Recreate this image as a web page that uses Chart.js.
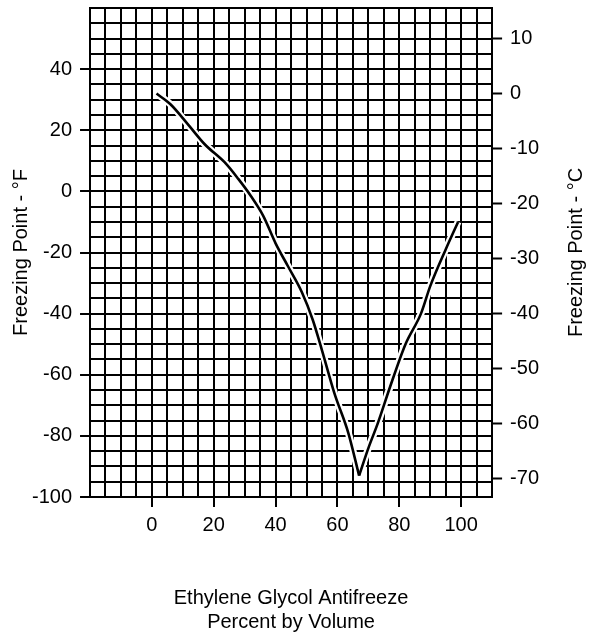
<!DOCTYPE html>
<html lang="en">
<head>
  <meta charset="UTF-8">
  <title>Ethylene Glycol Antifreeze - Freezing Point</title>
  <script src="https://cdn.jsdelivr.net/npm/chart.js@4.4.1/dist/chart.umd.min.js"></script>
  <style>
    html,body{margin:0;padding:0;background:#fff}
    #wrap{width:589px;height:639px}
  </style>
</head>
<body>
<div id="wrap"><canvas id="chart" width="589" height="639"></canvas></div>
<script>
/* ---- data ---- */
const percentVol = [1.5, 6, 12, 17, 24, 28, 32, 36, 40, 44, 48.5, 52, 55, 59, 63.5, 67, 70, 73, 77, 82, 87, 90, 95, 99];
const freezeF    = [32, 28.5, 21.5, 15.5, 9, 4, -1.5, -8, -17, -24.5, -33, -42, -52, -66, -79, -93, -84, -76, -64, -50, -40, -31, -19, -10];
const minIndex = 15; // bottom of the V (eutectic point)

// axis ranges / labelled ticks
const xRange = [-20, 110];
const xLabels = [0, 20, 40, 60, 80, 100];
const fRange = [-100, 60];
const fLabels = [-100, -80, -60, -40, -20, 0, 20, 40];
const cLabels = [-70, -60, -50, -40, -30, -20, -10, 0, 10];
const fTitle = 'Freezing Point - °F';
const cTitle = 'Freezing Point - °C';

const toC = f => (f - 32) * 5 / 9;
const pts = (a, b) => percentVol.slice(a, b).map((x, i) => ({x: x, y: freezeF[a + i]}));
const fallBranch = pts(0, minIndex + 1);
const riseBranch = pts(minIndex);

const FONT = {family: '"Liberation Sans", Arial, sans-serif', size: 20, lineHeight: 1.2};
const hasLabel = (list, v) => list.some(l => Math.abs(l - v) < 1e-6);

Chart.defaults.color = '#000';

function curve(data, white){
  return {
    data: data, borderColor: white ? '#fff' : '#000', borderWidth: white ? 7 : 2.6,
    pointRadius: 0, cubicInterpolationMode: 'monotone', order: white ? 2 : 1
  };
}

// right-hand title reads bottom-to-top like the left one
const rightTitle = {
  id: 'rightTitle',
  afterDraw(chart){
    const s = chart.scales.y2, a = chart.chartArea, ctx = chart.ctx;
    ctx.save();
    ctx.translate(s.right - 13, (a.top + a.bottom) / 2);
    ctx.rotate(-Math.PI / 2);
    ctx.font = '20px "Liberation Sans", Arial, sans-serif';
    ctx.fillStyle = '#000';
    ctx.textAlign = 'center';
    ctx.textBaseline = 'middle';
    ctx.fillText(cTitle, 0, 0);
    ctx.restore();
  }
};

new Chart(document.getElementById('chart'), {
  type: 'line',
  data: {
    datasets: [curve(fallBranch, false), curve(riseBranch, false), curve(fallBranch, true), curve(riseBranch, true)]
  },
  options: {
    responsive: false,
    animation: false,
    layout: {padding: {top: 8, left: 0, right: 0, bottom: 0}},
    plugins: {legend: {display: false}, tooltip: {enabled: false}},
    scales: {
      x: {
        type: 'linear', min: xRange[0], max: xRange[1],
        ticks: {
          stepSize: 5, autoSkip: false, maxRotation: 0, padding: 6, font: FONT, color: '#000',
          callback: v => hasLabel(xLabels, v) ? String(v) : []
        },
        grid: {
          color: '#000', lineWidth: 2, tickLength: 10, tickWidth: 2,
          tickColor: c => hasLabel(xLabels, c.tick.value) ? '#000' : 'rgba(0,0,0,0)'
        },
        border: {color: '#000', width: 2},
        title: {
          display: true, text: ['Ethylene Glycol Antifreeze', 'Percent by Volume'],
          font: FONT, color: '#000', padding: {top: 43, bottom: 5}
        }
      },
      y: {
        type: 'linear', position: 'left', min: fRange[0], max: fRange[1],
        ticks: {
          stepSize: 5, autoSkip: false, padding: 8, font: FONT, color: '#000',
          callback: v => hasLabel(fLabels, v) ? String(v) : []
        },
        grid: {
          color: '#000', lineWidth: 2, tickLength: 10, tickWidth: 2,
          tickColor: c => hasLabel(fLabels, c.tick.value) ? '#000' : 'rgba(0,0,0,0)'
        },
        border: {color: '#000', width: 2},
        title: {display: true, text: fTitle, font: FONT, color: '#000', padding: {top: 9, bottom: -9}}
      },
      y2: {
        type: 'linear', position: 'right', min: toC(fRange[0]), max: toC(fRange[1]),
        afterBuildTicks: s => {
          s.ticks = [s.min].concat(cLabels, [s.max]).map(v => ({value: v}));
        },
        ticks: {
          autoSkip: false, padding: 8, font: FONT, color: '#000',
          callback: v => hasLabel(cLabels, v) ? String(v) : []
        },
        grid: {
          drawOnChartArea: false, color: '#000', tickLength: 10, tickWidth: 2,
          tickColor: c => hasLabel(cLabels, c.tick.value) ? '#000' : 'rgba(0,0,0,0)'
        },
        border: {color: '#000', width: 2},
        // text drawn by the rightTitle plugin; this only keeps the room for it
        title: {display: true, text: cTitle, font: FONT, color: 'rgba(0,0,0,0)', padding: {top: 1, bottom: 17}}
      }
    }
  },
  plugins: [rightTitle]
});
</script>
</body>
</html>
